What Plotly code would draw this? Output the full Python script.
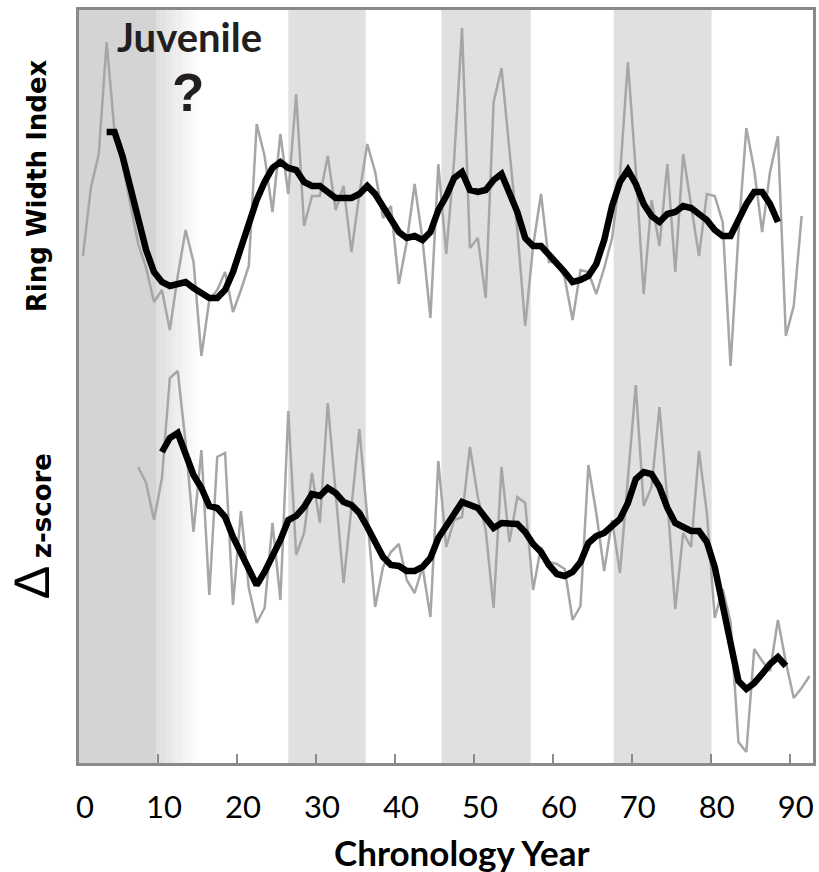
import plotly.graph_objects as go

# ---------------- data ----------------
# Ring Width Index (raw, yearly) for chronology years 1..92
rwi_years = list(range(1, 93))
rwi_raw = [
    0.82, 1.16, 1.33, 1.89, 1.44, 1.28, 1.08, 0.88, 0.76, 0.59,
    0.65, 0.45, 0.72, 0.95, 0.79, 0.32, 0.60, 0.65, 0.74, 0.54,
    0.65, 0.77, 1.48, 1.32, 1.04, 1.43, 1.13, 1.63, 0.97, 1.12,
    1.12, 1.32, 1.05, 1.17, 0.84, 1.13, 1.38, 1.24, 1.01, 1.07,
    0.68, 0.89, 1.18, 0.90, 0.51, 1.28, 0.83, 1.30, 1.96, 0.86,
    0.91, 0.61, 1.59, 1.76, 1.35, 0.95, 0.47, 0.87, 1.13, 0.79,
    0.79, 0.71, 0.50, 0.75, 0.74, 0.63, 0.76, 0.91, 1.22, 1.79,
    1.25, 0.63, 1.10, 0.87, 1.28, 0.74, 1.33, 1.07, 0.82, 1.13,
    1.12, 0.99, 0.27, 0.93, 1.46, 1.25, 0.94, 1.24, 1.42, 0.42,
    0.57, 1.02,
]

# Ring Width Index smoothed, years 4..89
rwi_smooth_years = list(range(4, 90))
rwi_smooth = [
    1.44, 1.44, 1.32, 1.17, 1.00, 0.85, 0.74,
    0.69, 0.67, 0.68, 0.69, 0.66, 0.63, 0.61, 0.61, 0.65, 0.74,
    0.86, 0.99, 1.10, 1.19, 1.26, 1.29, 1.26, 1.25, 1.19, 1.17,
    1.17, 1.14, 1.11, 1.11, 1.11, 1.13, 1.17, 1.13, 1.07, 1.00,
    0.94, 0.91, 0.92, 0.90, 0.94, 1.05, 1.12, 1.21, 1.24, 1.15,
    1.14, 1.15, 1.20, 1.23, 1.14, 1.04, 0.91, 0.87, 0.87, 0.83,
    0.79, 0.74, 0.69, 0.70, 0.72, 0.78, 0.90, 1.07, 1.19, 1.25,
    1.18, 1.08, 1.02, 0.99, 1.03, 1.04, 1.07, 1.06, 1.03, 1.00,
    0.95, 0.92, 0.92, 1.00, 1.08, 1.14, 1.14, 1.08, 0.99,
]

# Delta z-score (raw, yearly) for years 8..93
z_years = list(range(8, 94))
z_raw = [
    1.46, 1.14, 0.40,
    1.24, 3.24, 3.38, 1.94, 0.16, 1.80, -1.10, 1.66, 1.74, -1.30,
    0.58, -0.96, -1.66, -1.36, 0.34, -1.20, 2.58, -0.30, 0.14, 1.34,
    0.34, 2.74, 0.94, -0.86, 0.66, 2.22, 0.46, -1.34, -0.54, -0.24,
    -0.08, -0.80, -1.06, -0.54, -1.54, 1.58, -0.14, 0.40, 0.46, 1.86,
    0.86, 0.20, -1.36, 1.46, -0.04, 0.86, 0.74, -1.00, -0.14, -0.44,
    -0.48, -0.58, -1.60, -1.32, 1.50, 0.54, -0.62, 0.40, -0.66, 1.20,
    3.10, 0.68, 1.06, 2.66, 0.80, -1.38, 0.14, -0.14, 1.78, 0.54,
    -1.56, -0.98, -1.64, -4.04, -4.24, -2.18, -2.42, -2.62, -1.60, -2.44,
    -3.16, -2.96, -2.72,
]

# Delta z-score smoothed, years 11..90
z_smooth_years = list(range(11, 91))
z_smooth = [
    1.76, 2.04, 2.14, 1.74, 1.30, 1.04, 0.68, 0.64, 0.46, 0.06,
    -0.26, -0.60, -0.90, -0.64, -0.34, 0.00, 0.40, 0.48, 0.66, 0.92,
    0.88, 1.04, 0.94, 0.76, 0.70, 0.54, 0.26, -0.06, -0.34, -0.50,
    -0.52, -0.62, -0.62, -0.54, -0.36, 0.04, 0.26, 0.52, 0.76, 0.70,
    0.64, 0.44, 0.24, 0.34, 0.32, 0.32, 0.16, -0.08, -0.24, -0.50,
    -0.68, -0.72, -0.64, -0.44, -0.06, 0.08, 0.14, 0.30, 0.42, 0.74,
    1.22, 1.36, 1.32, 1.06, 0.64, 0.34, 0.26, 0.18, 0.18, -0.04,
    -0.54, -1.30, -2.18, -2.82, -2.98, -2.86, -2.68, -2.48, -2.34, -2.52,
]

tick_labels = ["0", "10", "20", "30", "40", "50", "60", "70", "80", "90"]
tick_positions = [0.5 + 10 * i for i in range(len(tick_labels))]

# shaded periods (in chronology-year axis units)
juvenile_span = (0.5, 10.34)
juvenile_fade = (10.34, 15.76)
bands = [(27.0, 36.8), (46.4, 57.7), (68.2, 80.6)]

# ---------------- figure ----------------
GRAY = "#a6a6a6"
FRAME = "#8a8a8a"

fig = go.Figure()

shapes = []
shapes.append(dict(type="rect", xref="x", yref="paper",
                   x0=juvenile_span[0], x1=juvenile_span[1], y0=0, y1=1,
                   fillcolor="#d4d4d4", line=dict(width=0), layer="below"))
nsteps = 24
f0, f1 = juvenile_fade
for i in range(nsteps):
    a = f0 + (f1 - f0) * i / nsteps
    b = f0 + (f1 - f0) * (i + 1) / nsteps + 0.02
    t = (i + 0.5) / nsteps
    v = int(round(0xdc + (0xff - 0xdc) * t))
    shapes.append(dict(type="rect", xref="x", yref="paper",
                       x0=a, x1=b, y0=0, y1=1,
                       fillcolor=f"rgb({v},{v},{v})", line=dict(width=0),
                       layer="below"))
for (a, b) in bands:
    shapes.append(dict(type="rect", xref="x", yref="paper",
                       x0=a, x1=b, y0=0, y1=1,
                       fillcolor="#e0e0e0", line=dict(width=0), layer="below"))

fig.add_trace(go.Scatter(x=rwi_years, y=rwi_raw, mode="lines",
                         line=dict(color=GRAY, width=2.5), yaxis="y",
                         showlegend=False, hoverinfo="skip"))
fig.add_trace(go.Scatter(x=rwi_smooth_years, y=rwi_smooth, mode="lines",
                         line=dict(color="#000000", width=6.5), yaxis="y",
                         showlegend=False, hoverinfo="skip"))
fig.add_trace(go.Scatter(x=z_years, y=z_raw, mode="lines",
                         line=dict(color=GRAY, width=2.5), yaxis="y2",
                         showlegend=False, hoverinfo="skip"))
fig.add_trace(go.Scatter(x=z_smooth_years, y=z_smooth, mode="lines",
                         line=dict(color="#000000", width=6.5), yaxis="y2",
                         showlegend=False, hoverinfo="skip"))

W, H = 819, 872
L, R, T, B = 79, 3, 10, 109
pw, ph = W - L - R, H - T - B


def px(xp):
    return (xp - L) / pw


def py(yp):
    return (H - B - yp) / ph


annotations = [
    dict(text="<b>Chronology Year</b>", x=px(463.5), y=py(852),
         xref="paper", yref="paper", showarrow=False,
         xanchor="center", yanchor="middle",
         font=dict(family="Lato", size=35, color="#000000")),
    dict(text="<b>Ring Width Index</b>", x=px(37), y=py(186),
         xref="paper", yref="paper", showarrow=False, textangle=-90,
         xanchor="center", yanchor="middle",
         font=dict(family="DejaVu Sans", size=26, color="#000000")),
    dict(text="<b>z-score</b>", x=px(42), y=py(506),
         xref="paper", yref="paper", showarrow=False, textangle=-90,
         xanchor="center", yanchor="middle",
         font=dict(family="DejaVu Sans", size=26, color="#000000")),
    dict(text="\u2206", x=px(31), y=py(582.5),
         xref="paper", yref="paper", showarrow=False, textangle=-90,
         xanchor="center", yanchor="middle",
         font=dict(family="Liberation Sans", size=50, color="#000000")),
    dict(text="<b>Juvenile</b>", x=px(190), y=py(37.5),
         xref="paper", yref="paper", showarrow=False,
         xanchor="center", yanchor="middle",
         font=dict(family="Lato", size=40, color="#231f20")),
    dict(text="<b>?</b>", x=px(188), y=py(92),
         xref="paper", yref="paper", showarrow=False,
         xanchor="center", yanchor="middle",
         font=dict(family="Liberation Sans", size=53, color="#231f20")),
]

fig.update_layout(
    width=W, height=H,
    margin=dict(l=L, r=R, t=T, b=B, pad=0),
    paper_bgcolor="white", plot_bgcolor="white",
    shapes=shapes, annotations=annotations,
    showlegend=False,
    xaxis=dict(range=[0.5, 93.44], tickvals=tick_positions, ticktext=tick_labels,
               ticks="inside", ticklen=9, tickwidth=2, tickcolor=FRAME,
               showline=True, linecolor=FRAME, linewidth=2.5, mirror=True,
               showgrid=False, zeroline=False,
               tickfont=dict(family="Lato", size=31, color="#000000"),
               ticklabelshift=6, ticklabelstandoff=15),
    yaxis=dict(range=[-1.715, 2.05], showline=True, linecolor=FRAME,
               linewidth=2.5, mirror=True, showticklabels=False, ticks="",
               showgrid=False, zeroline=False),
    yaxis2=dict(range=[-4.46, 10.6], overlaying="y", visible=False,
                showgrid=False, zeroline=False),
)

# remove the default 8px page margin so the figure fills the window exactly
fig.write_html(
    "out.html",
    config={"displayModeBar": False},
    post_script="document.body.style.margin='0';document.body.style.overflow='hidden';",
)
